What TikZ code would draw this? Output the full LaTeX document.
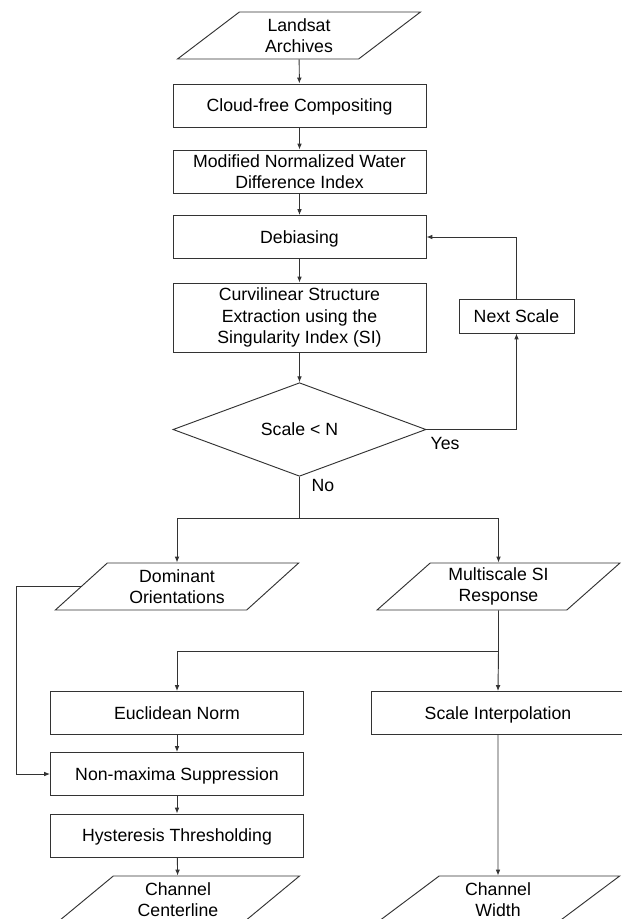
\documentclass[tikz,border=0pt]{standalone}
\usepackage{fontspec}
\setmainfont{Liberation Sans}
\usetikzlibrary{shapes.geometric,arrows.meta}
\tikzset{
  stepbox/.style={draw=black!80, line width=0.8pt, fill=white, align=center,
    minimum width=7.59cm, minimum height=1.29cm, inner sep=2pt},
  oneline/.style={text height=12.5pt, text depth=1.5pt},
  iobox/.style={draw=black!80, line width=0.8pt, fill=white, align=center,
    trapezium, trapezium left angle=45, trapezium right angle=135,
    trapezium stretches=true, minimum width=7.3cm, minimum height=1.41cm, inner sep=1pt},
  testbox/.style={draw=black!80, line width=0.8pt, fill=white, align=center,
    diamond, minimum width=7.59cm, minimum height=2.61cm, inner sep=0pt},
  flow/.style={draw=black!80, line width=0.8pt, -{Latex[length=5pt,width=4pt]}},
  link/.style={draw=black!80, line width=0.8pt},
}

\begin{document}
\begin{tikzpicture}[x=0.03cm, y=-0.03cm, font=\fontsize{15.1}{18}\selectfont]
    \clip (0,0) rectangle (622,919);
    \node[iobox] (land) at (299,35.5) {Landsat\\Archives};
    \node[stepbox, oneline] (cloud) at (299.5,105.5) {Cloud-free Compositing};
    \node[stepbox] (mndwi) at (299.5,171.5) {Modified Normalized Water\\Difference Index};
    \node[stepbox, oneline] (debias) at (299.5,237) {Debiasing};
    \node[stepbox, minimum height=2.07cm] (curv) at (299.5,317.5) {Curvilinear Structure\\Extraction using the\\Singularity Index (SI)};
    \node[testbox, oneline] (scale) at (299.5,429.5) {Scale < N};
    \node[stepbox, oneline, minimum width=3.45cm, minimum height=1.02cm] (next) at (516.5,316) {Next Scale};
    \node (yes) at (445,443) {Yes};
    \node (no) at (323,485) {No};
    \node[iobox] (dom) at (177,586.5) {Dominant\\Orientations};
    \node[iobox] (msr) at (498.5,586.5) {Multiscale SI\\Response};
    \node[stepbox, oneline] (eucl) at (177,713) {Euclidean Norm};
    \node[stepbox, oneline] (interp) at (498,713) {Scale Interpolation};
    \node[stepbox, oneline] (nms) at (177,774) {Non-maxima Suppression};
    \node[stepbox, oneline] (hyst) at (177,835.5) {Hysteresis Thresholding};
    \node[iobox] (cline) at (178,899.5) {Channel\\Centerline};
    \node[iobox] (cwidth) at (498,899.5) {Channel\\Width};
    \coordinate (split1) at (299.5,518);
    \coordinate (split2) at (498.5,651);
    \coordinate (back) at (16,586.5);

    \draw[flow] (land) -- (cloud);
    \draw[flow] (cloud) -- (mndwi);
    \draw[flow] (mndwi) -- (debias);
    \draw[flow] (debias) -- (curv);
    \draw[flow] (curv) -- (scale);
    \draw[flow] (scale.east) -| (next.south);
    \draw[flow] (next.north) |- (debias.east);
    \draw[link] (scale.south) -- (split1);
    \draw[flow] (split1) -| (dom.north);
    \draw[flow] (split1) -| (msr.north);
    \draw[link] (msr.south) -- (split2);
    \draw[flow] (split2) -| (eucl.north);
    \draw[flow] (split2) -- (interp.north);
    \draw[flow] (eucl) -- (nms);
    \draw[flow] (nms) -- (hyst);
    \draw[flow] (hyst) -- (cline);
    \draw[flow] (interp) -- (cwidth);
    \draw[flow] (dom.left side) -- (back) |- (nms.west);
\end{tikzpicture}
\end{document}
